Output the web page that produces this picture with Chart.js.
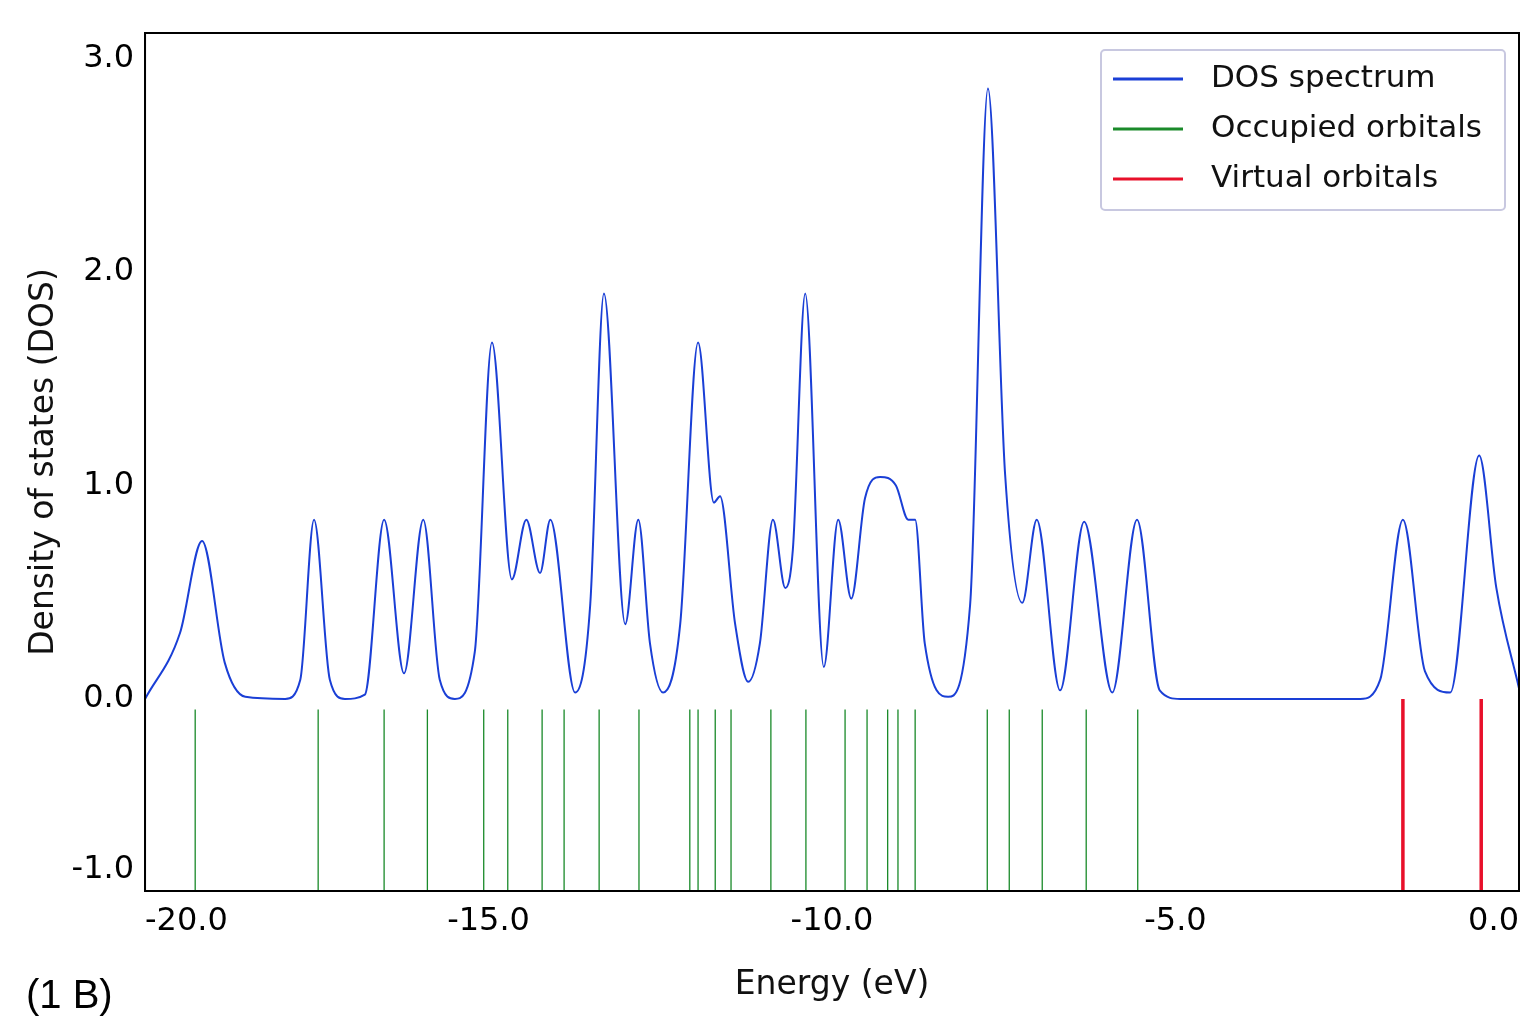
<!DOCTYPE html>
<html>
<head>
<meta charset="utf-8">
<script src="https://cdn.jsdelivr.net/npm/chart.js@4/dist/chart.umd.min.js"></script>
<style>
  html, body { margin: 0; padding: 0; background: #fff; }
  #wrap { width: 1536px; height: 1027px; }
</style>
</head>
<body>
<div id="wrap"><canvas id="dos"></canvas></div>
<script>
// DOS curve (energy eV, DOS)
const dosEnergy = [-20, -19.49, -19.17, -18.84, -18.54, -17.96, -17.74, -17.54, -17.31, -17.09, -16.8, -16.52, -16.23, -15.95, -15.71, -15.49, -15.2, -14.95, -14.66, -14.45, -14.25, -14.1, -13.74, -13.52, -13.32, -13.01, -12.82, -12.65, -12.46, -12.21, -11.95, -11.72, -11.63, -11.41, -11.22, -11.05, -10.86, -10.68, -10.57, -10.39, -10.12, -9.91, -9.72, -9.52, -9.30, -9.07, -8.89, -8.79, -8.65, -8.31, -7.99, -7.73, -7.48, -7.23, -7.02, -6.68, -6.33, -5.92, -5.56, -5.23, -4.93, -2.31, -2.02, -1.69, -1.37, -1.0, -0.58, -0.33, 0];
const dosValue = [0, 0.31, 0.74, 0.17, 0.01, 0, 0.09, 0.84, 0.09, 0, 0.02, 0.84, 0.12, 0.84, 0.09, 0, 0.22, 1.67, 0.56, 0.84, 0.59, 0.84, 0.03, 0.44, 1.90, 0.35, 0.84, 0.26, 0.03, 0.35, 1.67, 0.92, 0.95, 0.35, 0.08, 0.26, 0.84, 0.52, 0.70, 1.90, 0.15, 0.84, 0.47, 0.94, 1.04, 1.0, 0.84, 0.84, 0.26, 0.01, 0.44, 2.86, 1.05, 0.45, 0.84, 0.04, 0.83, 0.03, 0.84, 0.04, 0, 0, 0.09, 0.84, 0.13, 0.03, 1.14, 0.52, 0.05];

// orbital energies (eV)
const occupiedOrbitals = [-19.27, -17.48, -16.52, -15.89, -15.07, -14.72, -14.22, -13.90, -13.39, -12.81, -12.07, -11.95, -11.70, -11.47, -10.89, -10.38, -9.81, -9.49, -9.19, -9.04, -8.79, -7.74, -7.42, -6.94, -6.30, -5.55];
const virtualOrbitals = [-1.69, -0.55];

const yTicks = [-0.8, 0, 1, 2, 3];
const yTickLabels = {'-0.8': '-1.0', '0': '0.0', '1': '1.0', '2': '2.0', '3': '3.0'};

// stick segments separated by gaps
function sticks(energies, top) {
    const pts = [];
    for (const e of energies) {
        pts.push({x: e, y: top}, {x: e, y: -0.9}, {x: e, y: null});
    }
    return pts;
}

const frameAndLegend = {
    id: 'frameAndLegend',
    afterDraw(chart) {
        const ctx = chart.ctx;
        const a = chart.chartArea;
        ctx.save();
        // box round the plot
        ctx.strokeStyle = '#000';
        ctx.lineWidth = 2;
        ctx.strokeRect(a.left, a.top, a.right - a.left, a.bottom - a.top);

        const x0 = 1101, y0 = 50, w = 404, h = 160;
        ctx.fillStyle = 'rgba(255,255,255,0.9)';
        ctx.strokeStyle = '#c8c8e0';
        ctx.lineWidth = 2;
        ctx.beginPath();
        ctx.roundRect(x0, y0, w, h, 4);
        ctx.fill();
        ctx.stroke();
        ctx.font = '31px "DejaVu Sans"';
        ctx.textBaseline = 'middle';
        chart.data.datasets.forEach((ds, i) => {
            const yy = y0 + 29 + i * 50;
            ctx.strokeStyle = ds.borderColor;
            ctx.lineWidth = 3;
            ctx.beginPath();
            ctx.moveTo(x0 + 12, yy);
            ctx.lineTo(x0 + 82, yy);
            ctx.stroke();
            ctx.fillStyle = '#111';
            ctx.fillText(ds.label, x0 + 110, yy);
        });
        // panel label
        ctx.font = '40px "Liberation Sans"';
        ctx.fillStyle = '#000';
        ctx.textBaseline = 'alphabetic';
        ctx.fillText('(1 B)', 26, 1008);
        ctx.restore();
    }
};

new Chart(document.getElementById('dos'), {
    type: 'line',
    data: {
        datasets: [{
            label: 'DOS spectrum',
            data: dosEnergy.map((e, i) => ({x: e, y: dosValue[i]})),
            borderColor: '#1a3fd6',
            borderWidth: 2,
            pointRadius: 0,
            cubicInterpolationMode: 'monotone'
        }, {
            label: 'Occupied orbitals',
            data: sticks(occupiedOrbitals, -0.05),
            borderColor: '#1a8a2a',
            borderWidth: 1.3,
            pointRadius: 0,
            spanGaps: false
        }, {
            label: 'Virtual orbitals',
            data: sticks(virtualOrbitals, 0),
            borderColor: '#e8102a',
            borderWidth: 3.5,
            pointRadius: 0,
            spanGaps: false
        }]
    },
    options: {
        responsive: true,
        maintainAspectRatio: false,
        animation: false,
        layout: {padding: {top: 33, right: 17, bottom: 18, left: 21}},
        plugins: {legend: {display: false}, tooltip: {enabled: false}},
        scales: {
            x: {
                type: 'linear',
                min: -20,
                max: 0,
                grid: {display: false, drawTicks: true, tickLength: 8, color: '#000'},
                border: {color: '#000', width: 2},
                ticks: {
                    stepSize: 5,
                    align: 'inner',
                    color: '#000',
                    font: {family: 'DejaVu Sans', size: 32},
                    callback: v => v.toFixed(1)
                },
                title: {display: true, text: 'Energy (eV)', color: '#111', font: {family: 'DejaVu Sans', size: 33}, padding: {top: 22}}
            },
            y: {
                type: 'linear',
                min: -0.9,
                max: 3.12,
                afterBuildTicks: axis => { axis.ticks = yTicks.map(v => ({value: v})); },
                grid: {display: false, drawTicks: true, tickLength: 8, color: '#000'},
                border: {color: '#000', width: 2},
                ticks: {
                    color: '#000',
                    font: {family: 'DejaVu Sans', size: 32},
                    callback: v => yTickLabels[String(v)]
                },
                title: {display: true, text: 'Density of states (DOS)', color: '#111', font: {family: 'DejaVu Sans', size: 33}}
            }
        }
    },
    plugins: [frameAndLegend]
});
</script>
</body>
</html>
